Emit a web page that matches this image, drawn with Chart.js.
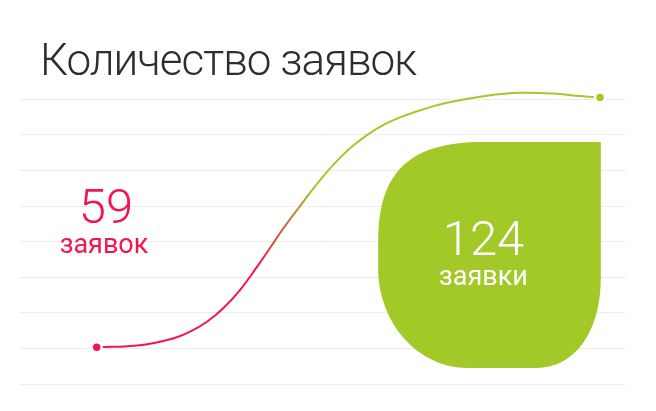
<!DOCTYPE html>
<html>
<head>
<meta charset="utf-8">
<script src="https://cdn.jsdelivr.net/npm/chart.js@4/dist/chart.umd.min.js"></script>
<style>
  html, body { margin: 0; padding: 0; background: #fff; }
  #wrap { width: 656px; height: 411px; position: relative; }
</style>
</head>
<body>
<div id="wrap"><canvas id="chart" width="656" height="411"></canvas></div>
<script>
// Curve points (x in arbitrary time units, y in grid steps)
const xValues = [12.68, 19.83, 25.29, 28.10, 30.91, 33.55, 36.36, 39.17, 41.32, 43.47,
                 46.28, 49.09, 51.74, 54.55, 57.36, 60.00, 62.81, 65.79, 68.26, 71.40,
                 77.19, 82.64, 88.10, 92.56, 95.87];
const yValues = [1.03, 1.09, 1.28, 1.47, 1.75, 2.12, 2.64, 3.29, 3.82, 4.36,
                 5.00, 5.62, 6.15, 6.62, 6.99, 7.27, 7.49, 7.67, 7.80, 7.93,
                 8.10, 8.18, 8.16, 8.09, 8.05];
const gridTicks = [0, 1, 2, 3, 4, 5, 6, 7, 8];

const titleText = 'Количество заявок';
const startValue = 59;
const startLabel = 'заявок';
const endValue = 124;
const endLabel = 'заявки';

const RED = '#f2154e';
const GREEN = '#a2c927';
const GRID = '#ececec';

// Leaf block, in scale units
const LEAF = { x0: 59.2, x1: 96.0, y0: 0.45, y1: 6.8 };

function lineGradient(context) {
  const chart = context.chart;
  const area = chart.chartArea;
  if (!area) return RED;
  const g = chart.ctx.createLinearGradient(area.left, 0, area.right, 0);
  g.addColorStop(0, RED);
  g.addColorStop(0.39, RED);
  g.addColorStop(0.49, GREEN);
  g.addColorStop(1, GREEN);
  return g;
}

const decorPlugin = {
  id: 'decor',
  beforeDatasetsDraw(chart) {
    const { ctx, scales } = chart;
    const L = scales.x.getPixelForValue(LEAF.x0);
    const R = scales.x.getPixelForValue(LEAF.x1);
    const T = scales.y.getPixelForValue(LEAF.y1);
    const B = scales.y.getPixelForValue(LEAF.y0);
    const w = R - L, h = B - T;

    // rounded corner from (fx,fy) to (tx,ty) around corner point (cx,cy)
    const corner = (fx, fy, cx, cy, tx, ty, k) => {
      ctx.bezierCurveTo(fx + k * (cx - fx), fy + k * (cy - fy),
                        tx + k * (cx - tx), ty + k * (cy - ty), tx, ty);
    };

    ctx.save();
    ctx.fillStyle = GREEN;
    ctx.beginPath();
    ctx.moveTo(R, T);
    ctx.lineTo(R, B - 0.40 * h);
    corner(R, B - 0.40 * h, R, B, R - 0.29 * w, B, 0.6);
    ctx.lineTo(L + 0.40 * w, B);
    corner(L + 0.40 * w, B, L, B, L, B - 0.44 * h, 0.55);
    ctx.lineTo(L, T + 0.44 * h);
    corner(L, T + 0.44 * h, L, T, L + 0.47 * w, T, 0.7);
    ctx.closePath();
    ctx.fill();

    // value text inside the leaf
    const cx = (L + R) / 2 - 6;
    ctx.fillStyle = '#ffffff';
    ctx.textAlign = 'center';
    ctx.textBaseline = 'alphabetic';
    ctx.font = '300 49px Roboto';
    ctx.fillText(String(endValue), cx, T + 113);
    ctx.font = '400 27px Roboto';
    ctx.fillText(endLabel, cx, T + 143);
    ctx.restore();
  },
  afterDraw(chart) {
    const { ctx } = chart;
    ctx.save();
    ctx.textBaseline = 'alphabetic';
    ctx.textAlign = 'left';
    ctx.fillStyle = '#2e2e2e';
    ctx.font = '300 44px Roboto';
    ctx.letterSpacing = '-1px';
    ctx.fillText(titleText, 40, 75);
    ctx.letterSpacing = '0px';

    ctx.textAlign = 'center';
    ctx.fillStyle = RED;
    ctx.font = '300 49px Roboto';
    ctx.fillText(String(startValue), 106, 223);
    ctx.font = '400 27px Roboto';
    ctx.fillText(startLabel, 104, 253);
    ctx.restore();
  }
};

const points = xValues.map((x, i) => ({ x: x, y: yValues[i] }));
const lastIndex = points.length - 1;

new Chart(document.getElementById('chart'), {
  type: 'line',
  data: {
    datasets: [{
      data: points,
      borderColor: lineGradient,
      borderWidth: 2,
      tension: 0.4,
      fill: false,
      clip: false,
      pointRadius: points.map((p, i) => (i === 0 || i === lastIndex) ? 5 : 0),
      pointBackgroundColor: points.map((p, i) => i === 0 ? RED : GREEN),
      pointBorderColor: '#ffffff',
      pointBorderWidth: 2.5
    }]
  },
  options: {
    responsive: false,
    animation: false,
    layout: { padding: { left: 20, right: 31, top: 85, bottom: 27 } },
    plugins: {
      legend: { display: false },
      tooltip: { enabled: false },
      title: { display: false }
    },
    scales: {
      x: {
        type: 'linear',
        min: 0,
        max: 100,
        display: false
      },
      y: {
        min: 0,
        max: 8.4,
        afterBuildTicks: (scale) => {
          scale.ticks = gridTicks.map(v => ({ value: v }));
        },
        ticks: { display: false },
        border: { display: false },
        grid: { color: GRID, lineWidth: 1, drawTicks: false }
      }
    }
  },
  plugins: [decorPlugin]
});
</script>
</body>
</html>
